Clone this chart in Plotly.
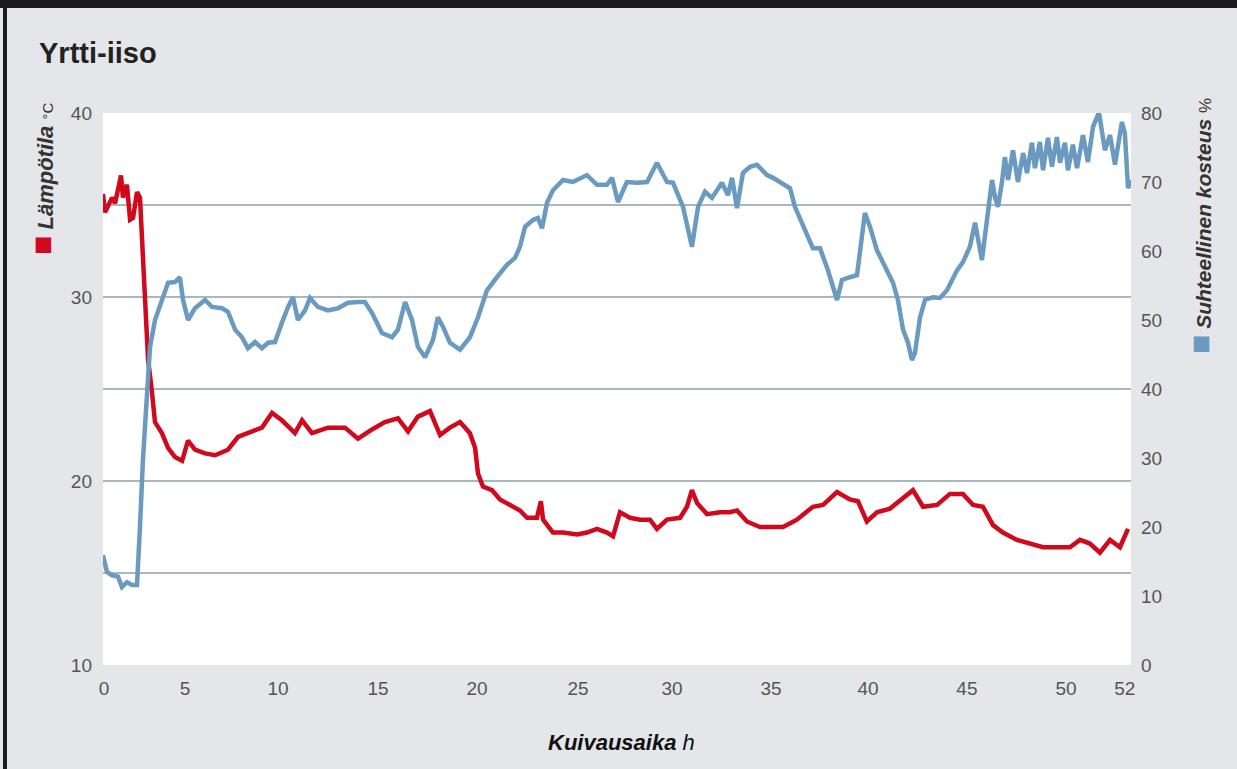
import plotly.graph_objects as go

# ---- data ----
temp_hours = [0.00, 0.10, 0.46, 0.61, 0.91, 1.01, 1.21, 1.37, 1.52, 1.72, 1.87, 2.12, 2.28, 2.48,
              2.63, 2.98, 3.29, 3.64, 4.00, 4.30, 4.65, 5.16, 5.67, 6.32, 6.83, 7.54, 8.04, 8.55,
              9.05, 9.71, 10.07, 10.57, 11.38, 12.24, 12.90, 13.61, 14.26, 14.92, 15.43, 15.93,
              16.54, 17.05, 17.55, 18.06, 18.56, 18.82, 18.97, 19.22, 19.68, 20.08, 20.59, 21.09,
              21.45, 21.95, 22.15, 22.26, 22.76, 23.27, 23.98, 24.48, 24.99, 25.49, 25.80, 26.15,
              26.66, 27.16, 27.67, 28.02, 28.53, 29.19, 29.54, 29.79, 30.05, 30.55, 31.21, 31.71,
              32.07, 32.57, 33.23, 33.89, 34.40, 35.10, 35.91, 36.42, 37.13, 37.78, 38.19, 38.64,
              39.15, 39.81, 40.47, 40.97, 41.48, 42.19, 42.84, 43.50, 44.01, 44.51, 45.02, 45.52,
              46.23, 46.89, 47.55, 48.25, 48.91, 49.42, 49.92, 50.43, 50.94, 51.44, 51.85]
temp_values = [35.6, 34.6, 35.4, 35.1, 36.6, 35.4, 36.1, 34.2, 34.3, 35.7, 35.4, 29.3, 26.6, 24.8,
               23.2, 22.6, 21.8, 21.3, 21.1, 22.2, 21.7, 21.5, 21.4, 21.7, 22.4, 22.7, 22.9, 23.7,
               23.3, 22.6, 23.3, 22.6, 22.9, 22.9, 22.3, 22.8, 23.2, 23.4, 22.7, 23.5,
               23.8, 22.5, 22.9, 23.2, 22.6, 21.8, 20.4, 19.7, 19.5, 19.0, 18.7, 18.4,
               18.0, 18.0, 18.9, 17.9, 17.2, 17.2, 17.1, 17.2, 17.4, 17.2, 17.0, 18.3,
               18.0, 17.9, 17.9, 17.4, 17.9, 18.0, 18.6, 19.5, 18.8, 18.2, 18.3, 18.3,
               18.4, 17.8, 17.5, 17.5, 17.5, 17.9, 18.6, 18.7, 19.4, 19.0, 18.9, 17.8,
               18.3, 18.5, 19.1, 19.5, 18.6, 18.7, 19.3, 19.3, 18.7, 18.6, 17.6, 17.2,
               16.8, 16.6, 16.4, 16.4, 16.4, 16.8, 16.6, 16.1, 16.8, 16.4, 17.4]

rh_hours = [0.00, 0.20, 0.46, 0.76, 0.96, 1.21, 1.47, 1.72, 1.87, 2.02, 2.23, 2.38, 2.63, 2.98,
            3.29, 3.64, 3.89, 4.05, 4.30, 4.65, 5.16, 5.51, 6.02, 6.32, 6.68, 7.03, 7.33, 7.69,
            8.04, 8.35, 8.70, 9.05, 9.36, 9.61, 9.86, 10.22, 10.47, 10.87, 11.38, 11.89, 12.39,
            12.90, 13.25, 13.61, 14.11, 14.62, 14.92, 15.28, 15.63, 15.93, 16.29, 16.69, 16.94,
            17.20, 17.55, 18.06, 18.56, 18.97, 19.42, 19.93, 20.43, 20.84, 21.09, 21.35, 21.75,
            22.00, 22.21, 22.46, 22.76, 23.27, 23.77, 24.48, 24.99, 25.49, 25.75, 26.05, 26.50,
            27.01, 27.52, 28.02, 28.53, 28.83, 29.34, 29.79, 30.10, 30.45, 30.80, 31.31, 31.61,
            31.82, 32.07, 32.37, 32.73, 33.08, 33.59, 33.89, 34.40, 34.75, 35.00, 35.41, 35.91,
            36.27, 36.67, 37.13, 37.38, 37.78, 38.14, 38.54, 38.80, 39.15, 39.55, 39.96, 40.21,
            40.47, 40.72, 40.92, 41.07, 41.33, 41.58, 41.98, 42.34, 42.69, 43.20, 43.50, 43.85,
            44.11, 44.46, 44.71, 44.97, 45.12, 45.27, 45.47, 45.62, 45.78, 46.03, 46.28, 46.54,
            46.74, 46.99, 47.14, 47.39, 47.55, 47.80, 48.00, 48.25, 48.41, 48.66, 48.81, 49.06,
            49.27, 49.57, 49.82, 50.08, 50.38, 50.68, 50.94, 51.19, 51.54, 51.69, 51.85, 52.00]
rh_values = [15.9, 13.5, 13.0, 12.8, 11.3, 12.0, 11.6, 11.6, 20.0, 29.7, 39.4, 46.1, 50.0, 52.9,
             55.4, 55.5, 56.2, 52.9, 50.0, 51.7, 52.9, 51.9, 51.7, 51.2, 48.6, 47.5, 45.9, 46.8,
             45.9, 46.7, 46.8, 49.6, 51.9, 53.3, 50.0, 51.4, 53.2, 51.9, 51.4, 51.7, 52.5,
             52.6, 52.6, 51.0, 48.1, 47.5, 48.6, 52.6, 50.0, 46.1, 44.6, 47.1, 50.4,
             49.0, 46.7, 45.7, 47.5, 50.4, 54.3, 56.2, 58.0, 59.0, 60.6, 63.5, 64.5,
             64.8, 63.3, 67.0, 68.8, 70.3, 70.0, 71.0, 69.6, 69.6, 70.6, 67.1, 70.0,
             69.9, 70.0, 72.8, 70.0, 69.9, 66.4, 60.6, 66.4, 68.6, 67.7, 69.9, 68.1,
             70.6, 66.2, 71.3, 72.2, 72.5, 71.0, 70.6, 69.6, 69.1, 66.4, 63.5, 60.4,
             60.4, 57.2, 52.9, 55.8, 56.2, 56.5, 65.5, 63.5, 60.1, 57.7, 55.4, 52.9,
             48.6, 46.7, 44.2, 45.2, 50.4, 52.9, 53.3, 53.2, 54.3, 57.2, 58.4, 60.6,
             64.1, 58.7, 64.5, 70.3, 67.8, 66.4, 69.9, 73.6, 70.3, 74.6, 70.0, 74.2,
             71.3, 75.7, 72.0, 75.8, 71.7, 76.4, 72.2, 76.5, 72.8, 75.7, 71.7, 75.4,
             72.0, 76.8, 72.9, 78.0, 80.1, 74.6, 76.8, 72.5, 78.7, 77.1, 69.1, 70.3]

# tick labels as placed in the reference
x_tick_pos = [0.05, 4.15, 8.85, 13.91, 18.92, 24.03, 28.78, 33.79, 38.70, 43.70, 48.71, 51.69]
x_tick_labels = ["0", "5", "10", "15", "20", "25", "30", "35", "40", "45", "50", "52"]
temp_ticks = [10, 15, 20, 25, 30, 35, 40]
temp_tick_labels = ["10", "", "20", "", "30", "", "40"]
rh_ticks = [0, 10, 20, 30, 40, 50, 60, 70, 80]

RED = "#d0091d"
BLUE = "#6a9ac0"
GRID = "#a7b7c4"
BG = "#e5e6ea"
FONT = "Liberation Sans, Arial, sans-serif"

fig = go.Figure()
fig.add_trace(go.Scatter(x=temp_hours, y=temp_values, mode="lines",
                         line=dict(color=RED, width=4.5), yaxis="y", showlegend=False))
fig.add_trace(go.Scatter(x=rh_hours, y=rh_values, mode="lines",
                         line=dict(color=BLUE, width=4.5), yaxis="y2", showlegend=False))

W, H = 1237, 769
L, R, T, B = 103, 106, 113, 104
pw, ph = W - L - R, H - T - B


def px(x):
    return (x - L) / pw


def py(y):
    return (H - B - y) / ph


fig.update_layout(
    width=W, height=H, autosize=False,
    margin=dict(l=L, r=R, t=T, b=B, pad=0),
    paper_bgcolor=BG, plot_bgcolor="white",
    font=dict(family=FONT, size=19, color="#555555"),
    xaxis=dict(range=[0, 52], showgrid=False, zeroline=False, showline=False,
               tickvals=x_tick_pos, ticktext=x_tick_labels, ticks="",
               ticklabelstandoff=10, tickfont=dict(size=19, color="#555555")),
    yaxis=dict(range=[10, 40], tickvals=temp_ticks, ticktext=temp_tick_labels,
               showgrid=True, gridcolor=GRID, gridwidth=2, zeroline=False, showline=False,
               ticks="", ticklabelstandoff=10, tickfont=dict(size=19, color="#555555")),
    yaxis2=dict(range=[0, 80], tickvals=rh_ticks, overlaying="y", side="right",
                showgrid=False, zeroline=False, showline=False, ticks="",
                ticklabelstandoff=9, tickfont=dict(size=19, color="#555555")),
    shapes=[
        dict(type="rect", xref="paper", yref="paper", x0=px(0), x1=px(W), y0=py(8), y1=py(0),
             fillcolor="#1b1b1b", line=dict(width=0), layer="above"),
        dict(type="rect", xref="paper", yref="paper", x0=px(3), x1=px(7), y0=py(H), y1=py(0),
             fillcolor="#1b1b1b", line=dict(width=0), layer="above"),
    ],
    annotations=[
        dict(text="<b>Yrtti-iiso</b>", xref="paper", yref="paper", x=px(37), y=py(53),
             xanchor="left", yanchor="middle", showarrow=False,
             font=dict(family=FONT, size=29, color="#222222")),
        dict(text=f"<span style='color:{RED};font-size:32px'>■</span> <b><i>Lämpötila</i></b> <span style='font-size:15px'>°C</span>",
             xref="paper", yref="paper", x=px(42), y=py(101), xanchor="center", yanchor="top",
             textangle=-90, showarrow=False, font=dict(size=22, color="#333333")),
        dict(text=f"<span style='color:{BLUE};font-size:32px'>■</span> <b><i>Suhteellinen kosteus</i></b> <span style='font-size:17px'>%</span>",
             xref="paper", yref="paper", x=px(1200), y=py(96), xanchor="center", yanchor="top",
             textangle=-90, showarrow=False, font=dict(size=21, color="#333333")),
        dict(text="<b><i>Kuivausaika</i></b> <i>h</i>", xref="paper", yref="paper",
             x=px(621), y=py(742), xanchor="center", yanchor="middle", showarrow=False,
             font=dict(size=22, color="#111111")),
    ],
)

fig.write_html("out.html")
